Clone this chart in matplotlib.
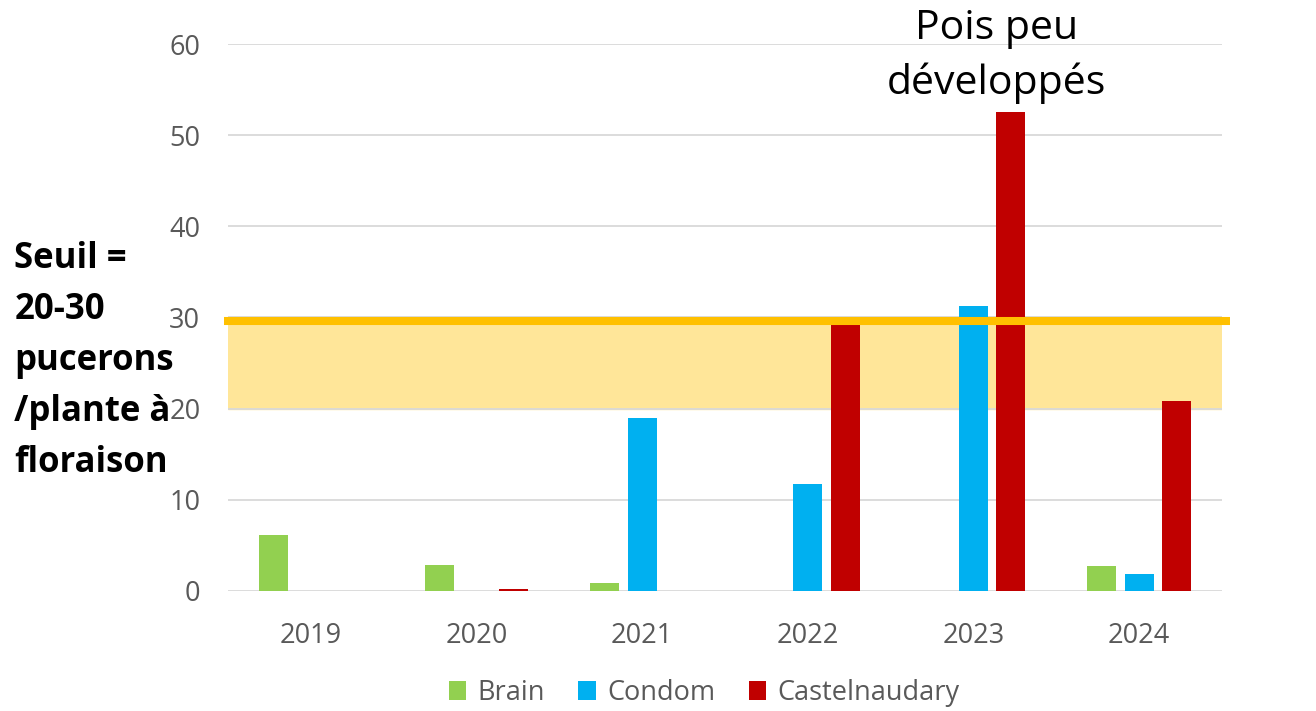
import numpy as np
import matplotlib.pyplot as plt

annees = ["2019", "2020", "2021", "2022", "2023", "2024"]
brain = [6.1, 2.85, 0.9, 0, 0, 2.7]
condom = [0, 0, 19.0, 11.7, 31.25, 1.85]
castel = [0, 0.2, 0, 29.5, 52.5, 20.8]
seuil_bas, seuil_haut = 20, 29.6

plt.rcParams['font.family'] = ['Open Sans', 'DejaVu Sans']

fig = plt.figure(figsize=(13.16, 7.11), dpi=100)
ax = fig.add_axes([0.1733, 0.1688, 0.7553, 0.7693])

x = np.arange(len(annees))
w = 0.175
# bande du seuil
ax.axhspan(seuil_bas, seuil_haut, color="#FFE699", zorder=1)
ax.bar(x - 0.225, brain, width=w, color="#92D050", label="Brain", zorder=3)
ax.bar(x, condom, width=w, color="#00B0F0", label="Condom", zorder=3)
ax.bar(x + 0.225, castel, width=w, color="#C00000", label="Castelnaudary", zorder=3)
ax.plot([-0.525, 5.55], [seuil_haut, seuil_haut], color="#FFC000", lw=5.8,
        solid_capstyle="butt", zorder=4, clip_on=False)

ax.set_xlim(-0.5, 5.5)
ax.set_ylim(0, 60)
ax.set_yticks(range(0, 61, 10))
ax.set_xticks(x, annees)
ax.grid(axis="y", color="#D9D9D9", lw=1.3, zorder=2)
ax.set_axisbelow(False)
for s in ax.spines.values():
    s.set_visible(False)
ax.tick_params(length=0, labelsize=19.5, colors="#595959")
ax.tick_params(axis="x", pad=22)
ax.tick_params(axis="y", pad=20)

fig.text(0.757, 1 - 56 / 711, "Pois peu\ndéveloppés", ha="center", va="center",
         fontsize=29.5, linespacing=1.42)
fig.text(0.011, 1 - 361 / 711, "Seuil =\n20-30\npucerons\n/plante à\nfloraison",
         ha="left", va="center", fontsize=25, fontweight="bold", linespacing=1.56,
         zorder=10)

fig.legend(loc="center", bbox_to_anchor=(0.535, 1 - 693 / 711), ncol=3, frameon=False,
           fontsize=19.5, labelcolor="#595959", handlelength=0.65, handleheight=0.65,
           handletextpad=0.4, columnspacing=1.25)

fig.savefig("out.png", dpi=100)
